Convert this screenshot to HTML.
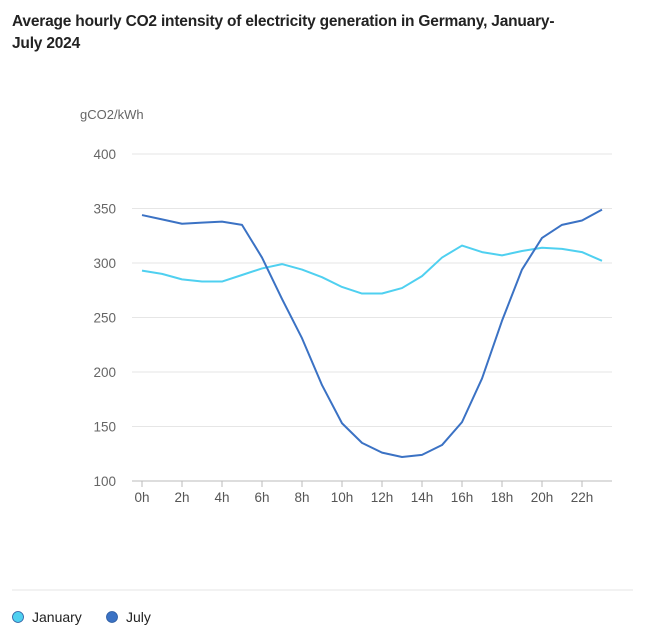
<!DOCTYPE html>
<html><head><meta charset="utf-8"><style>
body{margin:0;background:#fff;font-family:"Liberation Sans",sans-serif;}
#wrap{position:relative;width:645px;height:634px;overflow:hidden;}
h1{position:absolute;left:12px;top:11px;margin:0;font-size:15.5px;line-height:22px;font-weight:bold;color:#222;width:600px;letter-spacing:-0.2px}
</style></head><body>
<div id="wrap">
<h1>Average hourly CO2 intensity of electricity generation in Germany, January-<br>July 2024</h1>
<svg id="chart" width="645" height="634" style="position:absolute;left:0;top:0"></svg>
</div>
<script>
const hours=[0,1,2,3,4,5,6,7,8,9,10,11,12,13,14,15,16,17,18,19,20,21,22,23];
const january=[293,290,285,283,283,289,295,299,294,287,278,272,272,277,288,305,316,310,307,311,314,313,310,302];
const july=[344,340,336,337,338,335,305,267,231,188,153,135,126,122,124,133,154,194,247,294,323,335,339,349];
const yTicks=[100,150,200,250,300,350,400];
const xTickHours=[0,2,4,6,8,10,12,14,16,18,20,22];
const NS="http://www.w3.org/2000/svg";
const svg=document.getElementById('chart');
const x=h=>142+h*20;
const y=v=>481-(v-100)*1.09;
function mk(t,a){const e=document.createElementNS(NS,t);for(const k in a)e.setAttribute(k,a[k]);svg.appendChild(e);return e;}
let u=mk('text',{x:80,y:119,'font-size':13,fill:'#666','font-family':'Liberation Sans'});u.textContent='gCO2/kWh';


yTicks.forEach(v=>{
 const l=mk('line',{x1:132,x2:612,y1:y(v),y2:y(v),stroke:v===100?'#bbb':'#e6e6e6','stroke-width':1});
 
 
 const t=mk('text',{x:116,y:y(v)+5,'text-anchor':'end','font-size':13.5,fill:'#666','font-family':'Liberation Sans'});t.textContent=v;
 
 
});
xTickHours.forEach(h=>{
 const l=mk('line',{x1:x(h),x2:x(h),y1:481,y2:487,stroke:'#bbb'});
 
 
 const t=mk('text',{x:x(h),y:502,'text-anchor':'middle','font-size':13.5,fill:'#555','font-family':'Liberation Sans'});t.textContent=h+'h';
 
 
});
function line(data,color,name){
 const p=mk('polyline',{points:data.map((v,i)=>x(hours[i])+','+y(v)).join(' '),fill:'none',stroke:color,'stroke-width':2,'stroke-linejoin':'round'});
 
 
}
line(january,'#4fd0f0','january-line');
line(july,'#3b72c4','july-line');
const sep=mk('line',{x1:12,x2:633,y1:590,y2:590,stroke:'#e6e6e6'});


[['January','#4fd0f0',18],['July','#3b72c4',112]].forEach(([n,c,lx])=>{
 const g=document.createElementNS(NS,'g');svg.appendChild(g);
 
 
 const ci=document.createElementNS(NS,'circle');ci.setAttribute('cx',lx);ci.setAttribute('cy',617);ci.setAttribute('r',5.5);ci.setAttribute('fill',c);ci.setAttribute('stroke','#2a5aa0');ci.setAttribute('stroke-width',0.8);g.appendChild(ci);
 const t=document.createElementNS(NS,'text');t.setAttribute('x',lx+14);t.setAttribute('y',622);t.setAttribute('font-size',14);t.setAttribute('fill','#222');t.setAttribute('font-family','Liberation Sans');t.textContent=n;g.appendChild(t);
});
</script>
</body></html>
